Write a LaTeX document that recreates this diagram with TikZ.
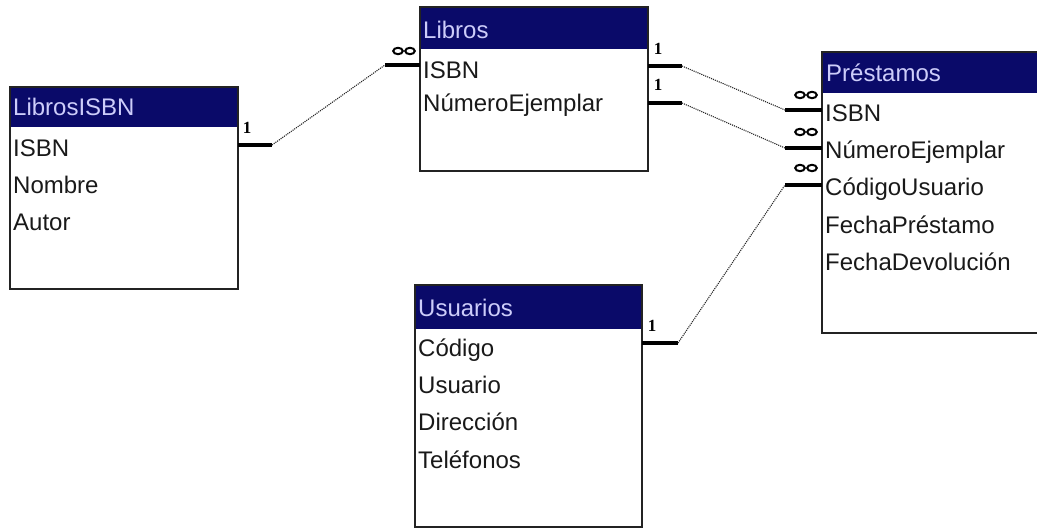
\documentclass[tikz,border=0pt]{standalone}
\usepackage{fontspec}
\setmainfont{Liberation Sans}
\newfontfamily\onefont{Liberation Serif}
\definecolor{hdr}{RGB}{10,10,105}
\definecolor{hdrtxt}{RGB}{205,205,250}
\definecolor{bodytxt}{RGB}{25,25,25}
\definecolor{frame}{RGB}{35,35,35}
\begin{document}
\begin{tikzpicture}[x=1pt,y=-1pt,
 tbl/.style={draw=frame, line width=2pt, anchor=north west, inner sep=0pt, outer sep=0pt},
 hdrbox/.style={fill=hdr, anchor=north west, inner sep=0pt, outer sep=0pt},
 title/.style={anchor=west, text=hdrtxt, font=\fontsize{24}{27}\selectfont, inner sep=0pt, text height=17pt, text depth=0pt},
 field/.style={anchor=west, text=bodytxt, font=\fontsize{24}{27}\selectfont, inner sep=0pt, text height=17pt, text depth=0pt},
 bar/.style={line width=3.5pt, black},
 rel/.style={densely dotted, line width=1.1pt, black!85},
 one/.style={font=\onefont\bfseries\fontsize{17}{17}\selectfont, inner sep=0pt},
 many/.pic={\draw[line width=2pt] (-6,0) ellipse (4.8pt and 3.2pt) (6,0) ellipse (4.8pt and 3.2pt);}
]
\useasboundingbox (0,0) rectangle (1037,529);

% ---------- LibrosISBN ----------
\node[hdrbox, minimum width=228pt, minimum height=40pt] (lisbnH) at (10,87) {};
\node[tbl, minimum width=228pt, minimum height=202pt] (lisbn) at (10,87) {};
\node[title] (lisbnT) at (13,107) {LibrosISBN};
\node[field] (lisbnF1) at (13,148) {ISBN};
\node[field] (lisbnF2) at (13,185) {Nombre};
\node[field] (lisbnF3) at (13,222) {Autor};

% ---------- Libros ----------
\node[hdrbox, minimum width=228pt, minimum height=42pt] (librosH) at (420,7) {};
\node[tbl, minimum width=228pt, minimum height=164pt] (libros) at (420,7) {};
\node[title] (librosT) at (423,30) {Libros};
\node[field] (librosF1) at (423,70) {ISBN};
\node[field] (librosF2) at (423,103) {NúmeroEjemplar};

% ---------- Préstamos ----------
\node[hdrbox, minimum width=230pt, minimum height=41pt] (prestH) at (822,52) {};
\node[tbl, minimum width=230pt, minimum height=281pt] (prest) at (822,52) {};
\node[title] (prestT) at (826,73) {Préstamos};
\node[field] (prestF1) at (825,113) {ISBN};
\node[field] (prestF2) at (825,150) {NúmeroEjemplar};
\node[field] (prestF3) at (825,187) {CódigoUsuario};
\node[field] (prestF4) at (825,225) {FechaPréstamo};
\node[field] (prestF5) at (825,262) {FechaDevolución};

% ---------- Usuarios ----------
\node[hdrbox, minimum width=227pt, minimum height=44pt] (usuH) at (415,285) {};
\node[tbl, minimum width=227pt, minimum height=242pt] (usu) at (415,285) {};
\node[title] (usuT) at (418,308) {Usuarios};
\node[field] (usuF1) at (418,348) {Código};
\node[field] (usuF2) at (418,385) {Usuario};
\node[field] (usuF3) at (418,422) {Dirección};
\node[field] (usuF4) at (418,460) {Teléfonos};

% ---------- connector anchor points ----------
\coordinate (lisbnR)  at (lisbn.east |- 0,145);
\coordinate (librosL) at (libros.west |- 0,65);
\coordinate (librosR1) at (libros.east |- 0,66);
\coordinate (librosR2) at (libros.east |- 0,103);
\coordinate (prestL1) at (prest.west |- 0,110);
\coordinate (prestL2) at (prest.west |- 0,148);
\coordinate (prestL3) at (prest.west |- 0,185);
\coordinate (usuR)    at (usu.east |- 0,343);

% LibrosISBN 1 -- many Libros
\draw[bar] (lisbnR) -- ++(34,0) coordinate (lisbnRb);
\draw[bar] (librosL) -- ++(-35,0) coordinate (librosLb);
\draw[rel] (lisbnRb) -- (librosLb);
\node[one] (one1) at (247,128) {1};
\pic at (404,51) {many};

% Libros ISBN 1 -- many Préstamos ISBN
\draw[bar] (librosR1) -- ++(34,0) coordinate (librosR1b);
\draw[bar] (prestL1) -- ++(-37,0) coordinate (prestL1b);
\draw[rel] (librosR1b) -- (prestL1b);
\node[one] (one2) at (658,49) {1};
\pic at (806,95) {many};

% Libros NúmeroEjemplar 1 -- many Préstamos NúmeroEjemplar
\draw[bar] (librosR2) -- ++(34,0) coordinate (librosR2b);
\draw[bar] (prestL2) -- ++(-37,0) coordinate (prestL2b);
\draw[rel] (librosR2b) -- (prestL2b);
\node[one] (one3) at (658,85) {1};
\pic at (806,132) {many};

% Usuarios 1 -- many Préstamos CódigoUsuario
\draw[bar] (usuR) -- ++(36,0) coordinate (usuRb);
\draw[bar] (prestL3) -- ++(-37,0) coordinate (prestL3b);
\draw[rel] (usuRb) -- (prestL3b);
\node[one] (one4) at (652,326) {1};
\pic at (806,168) {many};
\end{tikzpicture}
\end{document}
